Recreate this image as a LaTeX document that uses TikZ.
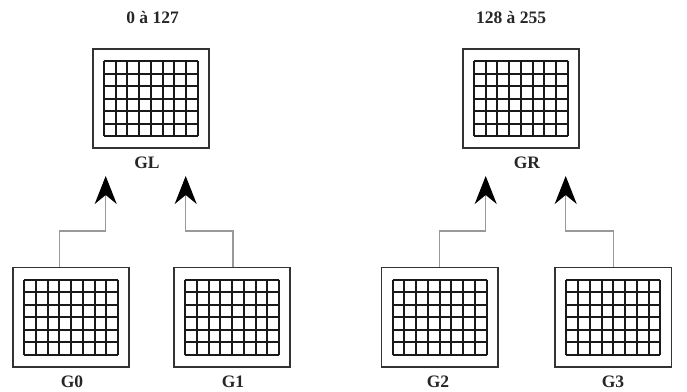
\documentclass[tikz,border=0pt]{standalone}
\usepackage{fontspec}
\setmainfont{Liberation Serif}
\usetikzlibrary{arrows.meta}
\begin{document}
\begin{tikzpicture}[x=1pt,y=-1pt,
  gridbox/.style={draw=black!80, line width=1.8pt, minimum width=116.5pt, minimum height=99.5pt, inner sep=0pt,
    path picture={
      \begin{scope}[shift={(path picture bounding box.center)}]
        \foreach \i in {0,...,8} {\draw[line width=2pt, black!90] (-47+11.75*\i,-37.5) -- (-47+11.75*\i,37.5);}
        \foreach \j in {0,...,6} {\draw[line width=2pt, black!90] (-47,-37.5+12.5*\j) -- (47,-37.5+12.5*\j);}
      \end{scope}}},
  lbl/.style={font=\fontsize{17.5}{19}\selectfont\bfseries, inner sep=0pt, text=black!85},
  conn/.style={draw=black!40, line width=1.2pt, -{Stealth[length=28pt,width=22pt,inset=9pt,black]}}]
\useasboundingbox (0,0) rectangle (687,391);

\node[gridbox] (GL) at (150.9,98.5) {};
\node[gridbox] (GR) at (520.9,98.5) {};
\node[gridbox] (G0) at (71,317.3) {};
\node[gridbox] (G1) at (232,317.3) {};
\node[gridbox] (G2) at (439.7,317.3) {};
\node[gridbox] (G3) at (613.3,317.3) {};

\node[lbl] (tGL) at (152.5,18) {0 à 127};
\node[lbl] (tGR) at (511,18) {128 à 255};
\node[lbl] (lGL) at (147,163) {GL};
\node[lbl] (lGR) at (527,163) {GR};
\node[lbl] (l0) at (72,382) {G0};
\node[lbl] (l1) at (233,382) {G1};
\node[lbl] (l2) at (438,382) {G2};
\node[lbl] (l3) at (613,382) {G3};

\coordinate (a0) at (105.7,176);
\coordinate (a1) at (185.7,176);
\coordinate (a2) at (485.7,176);
\coordinate (a3) at (565.7,176);

\draw[conn] ([xshift=-11.7pt]G0.north) -- ++(0,-35.6) -| (a0);
\draw[conn] ([xshift=1pt]G1.north) -- ++(0,-35.6) -| (a1);
\draw[conn] (G2.north) -- ++(0,-35.6) -| (a2);
\draw[conn] (G3.north) -- ++(0,-35.6) -| (a3);
\end{tikzpicture}
\end{document}
